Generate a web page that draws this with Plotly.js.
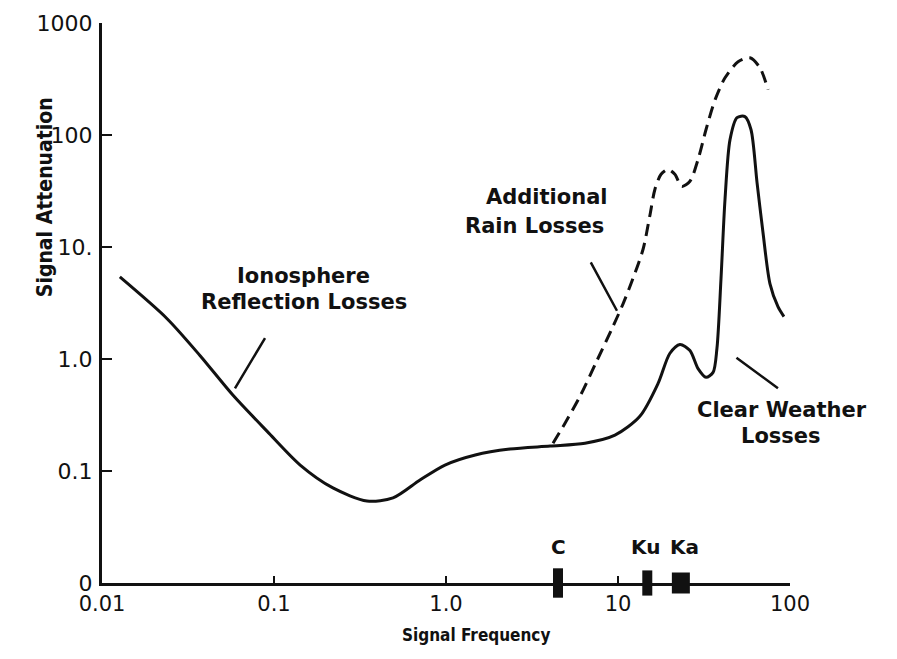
<!DOCTYPE html>
<html>
<head>
<meta charset="utf-8">
<script src="https://cdn.plot.ly/plotly-3.0.1.min.js"></script>
<style>
  html, body { margin: 0; padding: 0; background: #ffffff; }
  #chart { width: 897px; height: 659px; }
</style>
</head>
<body>
<div id="chart"></div>
<script>
// Clear weather losses (solid curve), frequency in GHz vs attenuation
const clearFreq = [0.0127, 0.0239, 0.0372, 0.0578, 0.091, 0.142, 0.220, 0.347, 0.492, 0.706, 0.986, 1.48, 2.35, 4.03, 6.43, 9.6, 13.4, 17.1, 20.0, 22.9, 26.2, 29.2, 32.5, 35.7, 37.6, 39.7, 41.9, 44.8, 49.2, 54.7, 59.3, 64.3, 69.6, 76.5, 85.1, 92.2];
const clearLoss = [5.4, 2.29, 1.07, 0.474, 0.227, 0.113, 0.0706, 0.054, 0.0575, 0.083, 0.113, 0.139, 0.157, 0.167, 0.177, 0.209, 0.308, 0.605, 1.12, 1.35, 1.19, 0.82, 0.686, 0.76, 1.24, 5.2, 26.7, 91, 143, 146, 112, 37.8, 13.6, 4.69, 2.93, 2.39];

// Additional rain losses (dashed curve)
const rainFreq = [4.19, 4.92, 6.01, 7.55, 9.23, 10.7, 12.2, 14.0, 15.3, 16.4, 17.8, 19.5, 21.4, 23.5, 26.2, 29.2, 32.5, 36.7, 41.9, 49.9, 58.5, 66.9, 74.5];
const rainLoss = [0.177, 0.267, 0.464, 0.97, 1.87, 3.11, 5.2, 9.6, 18.9, 32.8, 44.6, 49.3, 44.6, 34.8, 38.6, 60.5, 112, 207, 324, 450, 489, 398, 254];

// Frequency bands marked on the axis
const bandNames = ['C', 'Ku', 'Ka'];
const bandFreq = [4.48, 14.8, 23.2];

// Tick labels
const xTickVals = [0.01, 0.1, 1, 10, 100];
const xTickText = ['0.01', '0.1', '1.0', '10', '100'];
const yTickVals = [0.01, 0.1, 1, 10, 100, 1000];
const yTickText = ['0', '0.1', '1.0', '10.', '100', '1000'];

// Callout label lines: text, log10 freq, log10 attenuation
const calloutText = ['Ionosphere', 'Reflection Losses', 'Additional', 'Rain Losses', 'Clear Weather', 'Losses'];
const calloutX = [-0.831, -0.826, 0.587, 0.517, 1.953, 1.948];
const calloutY = [0.742, 0.511, 1.444, 1.187, -0.458, -0.689];
// Leader lines: head (x,y) and tail (ax,ay) in log10 units
const leaderX = [-1.227, 0.994, 1.930];
const leaderY = [-0.262, 0.431, -0.262];
const leaderAX = [-1.047, 0.837, 1.680];
const leaderAY = [0.200, 0.876, 0.022];

const ink = '#111111';
const fontFam = 'DejaVu Sans, Noto Sans, sans-serif';
const condFam = 'DejaVu Sans Condensed, DejaVu Sans, sans-serif';

const traces = [
  {
    x: clearFreq, y: clearLoss, type: 'scatter', mode: 'lines',
    line: {color: ink, width: 3, shape: 'spline', smoothing: 0.8},
    hoverinfo: 'skip'
  },
  {
    x: rainFreq, y: rainLoss, type: 'scatter', mode: 'lines',
    line: {color: ink, width: 3, shape: 'spline', smoothing: 0.8, dash: '12px,7px'},
    hoverinfo: 'skip'
  },
  {
    x: bandFreq, y: bandFreq.map(() => 0.01), type: 'scatter', mode: 'markers',
    cliponaxis: false,
    marker: {symbol: 'line-ns', size: [21, 18, 15], color: ink, opacity: 1,
             line: {color: ink, width: [10, 10, 18]}},
    hoverinfo: 'skip'
  }
];

const annotations = [];
calloutText.forEach((t, i) => {
  annotations.push({
    x: calloutX[i], y: calloutY[i], xref: 'x', yref: 'y',
    xanchor: 'center', yanchor: 'middle',
    text: '<b>' + t + '</b>', showarrow: false,
    font: {family: fontFam, size: 21, color: ink}
  });
});
leaderX.forEach((lx, i) => {
  annotations.push({
    x: lx, y: leaderY[i], ax: leaderAX[i], ay: leaderAY[i],
    xref: 'x', yref: 'y', axref: 'x', ayref: 'y',
    text: '', showarrow: true, arrowhead: 0, arrowwidth: 2.5, arrowcolor: ink
  });
});
bandNames.forEach((n, i) => {
  annotations.push({
    x: Math.log10(bandFreq[i]), y: -1.676, xref: 'x', yref: 'y',
    xanchor: 'center', yanchor: 'middle',
    xshift: i === 2 ? 4 : (i === 1 ? -2 : 0),
    text: '<b>' + n + '</b>', showarrow: false,
    font: {family: fontFam, size: 20, color: ink}
  });
});
annotations.push({
  x: 0.5436, y: -0.093, xref: 'paper', yref: 'paper',
  xanchor: 'center', yanchor: 'middle',
  text: '<b>Signal Frequency</b>', showarrow: false,
  font: {family: condFam, size: 17, color: ink}
});
annotations.push({
  x: -0.0828, y: 0.689, xref: 'paper', yref: 'paper',
  xanchor: 'center', yanchor: 'middle',
  text: '<b>Signal Attenuation</b>', showarrow: false, textangle: -90,
  font: {family: condFam, size: 21, color: ink}
});

const layout = {
  width: 897, height: 659,
  margin: {l: 102, r: 107, t: 23, b: 76},
  paper_bgcolor: '#ffffff', plot_bgcolor: '#ffffff',
  showlegend: false, hovermode: false,
  font: {family: fontFam, color: ink},
  xaxis: {
    type: 'log', range: [-2, 2],
    showline: true, linecolor: ink, linewidth: 3,
    showgrid: false, zeroline: false,
    ticks: 'inside', ticklen: 7, tickwidth: 2, tickcolor: ink,
    tickvals: xTickVals, ticktext: xTickText,
    tickfont: {family: fontFam, size: 21, color: ink}
  },
  yaxis: {
    type: 'log', range: [-2, 3],
    showline: true, linecolor: ink, linewidth: 3,
    showgrid: false, zeroline: false,
    ticks: 'inside', ticklen: 10, tickwidth: 2, tickcolor: ink,
    tickvals: yTickVals, ticktext: yTickText,
    ticklabelstandoff: 2,
    tickfont: {family: fontFam, size: 22, color: ink}
  },
  annotations: annotations
};

Plotly.newPlot('chart', traces, layout, {displayModeBar: false, staticPlot: true});
</script>
</body>
</html>
